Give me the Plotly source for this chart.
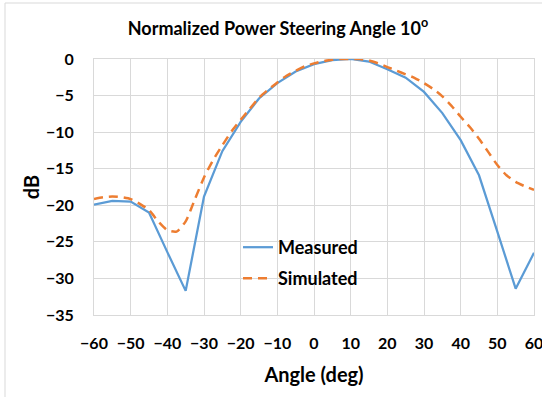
import plotly.graph_objects as go

# ---- data ----
meas_angle = [-60, -55, -50, -45, -40, -35, -30, -25, -20, -15, -10, -5, 0,
              5, 10, 15, 20, 25, 30, 35, 40, 45, 50, 55, 60]
meas_db = [-19.9, -19.4, -19.5, -21.0, -26.4, -31.7, -18.8, -12.6, -8.6, -5.4,
           -3.3, -1.7, -0.7, -0.15, 0.0, -0.35, -1.4, -2.55, -4.5, -7.4,
           -11.1, -15.9, -23.6, -31.4, -26.5]

sim_angle = [-60, -57.5, -55, -52.5, -50, -47.5, -45, -42.5, -40, -37.5, -35,
             -32.5, -30, -27.5, -25, -22.5, -20, -17.5, -15, -12.5, -10, -7.5,
             -5, -2.5, 0, 2.5, 5, 7.5, 10, 12.5, 15, 17.5, 20, 22.5, 25, 27.5,
             30, 32.5, 35, 37.5, 40, 42.5, 45, 47.5, 50, 52.5, 55, 57.5, 60]
sim_db = [-19.15, -18.9, -18.8, -18.9, -19.15, -19.8, -20.65, -22.2, -23.4,
          -23.6, -22.2, -19.2, -16.2, -13.8, -11.8, -9.9, -8.3, -6.8, -5.3,
          -4.2, -3.2, -2.3, -1.6, -1.0, -0.6, -0.3, -0.1, 0.0, 0.0, 0.0, -0.2,
          -0.6, -1.1, -1.6, -2.1, -2.6, -3.3, -4.1, -5.1, -6.4, -7.9, -9.3,
          -10.9, -12.7, -14.5, -15.9, -16.8, -17.4, -17.9]

x_ticks = list(range(-60, 61, 10))
y_ticks = list(range(-35, 1, 5))

title_text = "Normalized Power Steering Angle 10<sup>o</sup>"
x_title = "Angle (deg)"
y_title = "dB"

FONT = "Lato"
GRID = "#D9D9D9"


def bfont(size):
    return dict(family=FONT, size=size, color="#000000", weight="bold")


fig = go.Figure()
fig.add_trace(go.Scatter(x=meas_angle, y=meas_db, mode="lines", name="Measured",
                         line=dict(color="#5B9BD5", width=2.25),
                         legend="legend"))
fig.add_trace(go.Scatter(x=sim_angle, y=sim_db, mode="lines", name="Simulated",
                         line=dict(color="#ED7D31", width=2.5, dash="9px,6px",
                                   shape="spline", smoothing=0.6),
                         legend="legend2"))

W, H = 542, 397
L, R, T, B = 94, 8, 59, 82

legend_common = dict(bgcolor="rgba(0,0,0,0)", borderwidth=0,
                     font=bfont(18),
                     xanchor="left", yanchor="middle")

fig.update_layout(
    width=W, height=H,
    margin=dict(l=L, r=R, t=T, b=B, autoexpand=False),
    paper_bgcolor="white", plot_bgcolor="white",
    title=dict(text=title_text, x=278 / W, xanchor="center",
               y=1 - 28.5 / H, yanchor="middle",
               font=bfont(18)),
    showlegend=True,
    legend=dict(x=(238 - L) / (W - L - R), y=(H - B - 247.5) / (H - T - B), **legend_common),
    legend2=dict(x=(238 - L) / (W - L - R), y=(H - B - 278.5) / (H - T - B), **legend_common),
    xaxis=dict(range=[-60, 60], tickvals=x_ticks, showgrid=True, gridcolor=GRID,
               gridwidth=1, zeroline=False, showline=True, linecolor=GRID,
               mirror=True, ticks="", ticklabelstandoff=14,
               ticklabeloverflow="allow", automargin=False,
               tickfont=bfont(16),
               title=dict(text=x_title, standoff=16, font=bfont(20))),
    yaxis=dict(range=[-35, 0], tickvals=y_ticks, showgrid=True, gridcolor=GRID,
               gridwidth=1, zeroline=False, showline=True, linecolor=GRID,
               mirror=True, ticks="", ticklabelstandoff=16,
               ticklabeloverflow="allow", automargin=False,
               tickfont=bfont(16),
               title=dict(text=y_title, standoff=0, font=bfont(20))),
)

# chart-area frame (left and top edges visible in the reference)
pw, ph = W - L - R, H - T - B
fx = (5 - L) / pw
fy = (H - B - 3) / ph
fig.add_shape(type="line", xref="paper", yref="paper", x0=fx, x1=fx, y0=fy,
              y1=-(B + 5) / ph, line=dict(color=GRID, width=1))
fig.add_shape(type="line", xref="paper", yref="paper", x0=fx, x1=(W + 5 - L) / pw,
              y0=fy, y1=fy, line=dict(color=GRID, width=1))

fig.write_html("out.html")
